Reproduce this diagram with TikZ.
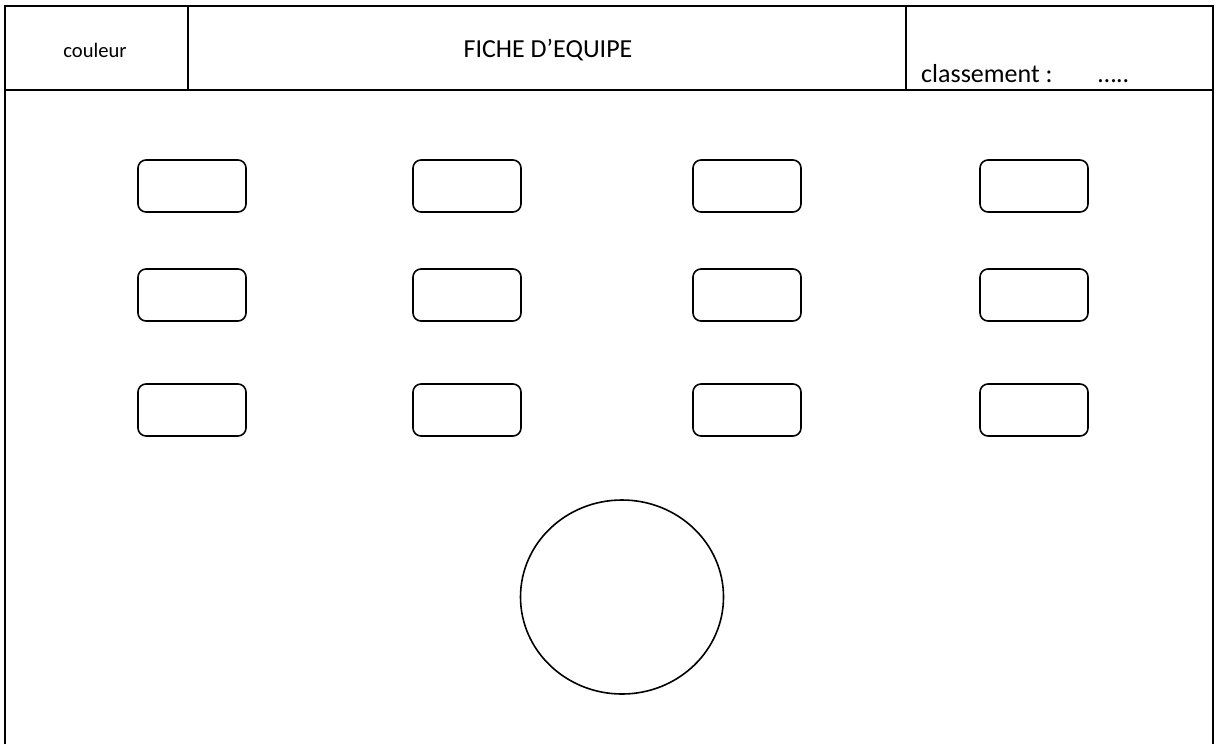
\documentclass[tikz,border=0pt]{standalone}
\usepackage{fontspec}
\setmainfont{Carlito}
\usetikzlibrary{shapes.geometric}
\begin{document}
\begin{tikzpicture}[x=1pt,y=-1pt,
  frame/.style={line width=2.2pt},
  slot/.style={draw,line width=1.6pt,rounded corners=8pt,minimum width=108pt,minimum height=52pt,inner sep=0pt},
  lbl/.style={inner sep=0pt}]
\useasboundingbox (0,0) rectangle (1222,744);
% outer frame
\coordinate (bl) at (5,744);
\coordinate (tl) at (5,6);
\coordinate (tr) at (1213,6);
\coordinate (br) at (1213,744);
\draw[frame] (bl) -- (tl) -- (tr) -- (br);
\coordinate (hl) at (5,90);
\coordinate (hr) at (1213,90);
\draw[frame] (hl) -- (hr);
\coordinate (d1t) at (188,6);
\coordinate (d1b) at (188,90);
\coordinate (d2t) at (906,6);
\coordinate (d2b) at (906,90);
\draw[frame] (d1t) -- (d1b);
\draw[frame] (d2t) -- (d2b);
% texts
\node[lbl,font=\fontsize{20.6}{24}\selectfont,anchor=base] (couleur) at (95,57) {couleur};
\node[lbl,font=\fontsize{26}{30}\selectfont,anchor=base] (titre) at (548,57) {FICHE D’EQUIPE};
\node[lbl,font=\fontsize{26}{30}\selectfont,anchor=base west] (classe) at (921,82) {classement :};
\node[lbl,font=\fontsize{26}{30}\selectfont,anchor=base west] (dots) at (1098,82) {…..};
% slots
\foreach \r/\y in {1/186,2/295,3/410}{
  \foreach \c/\x in {1/192,2/467,3/747,4/1034}{
    \node[slot] (s\r\c) at (\x,\y) {};
  }
}
% circle
\node[draw,line width=1.6pt,ellipse,minimum width=203pt,minimum height=194pt,inner sep=0pt] (rond) at (622,597) {};
\end{tikzpicture}
\end{document}
